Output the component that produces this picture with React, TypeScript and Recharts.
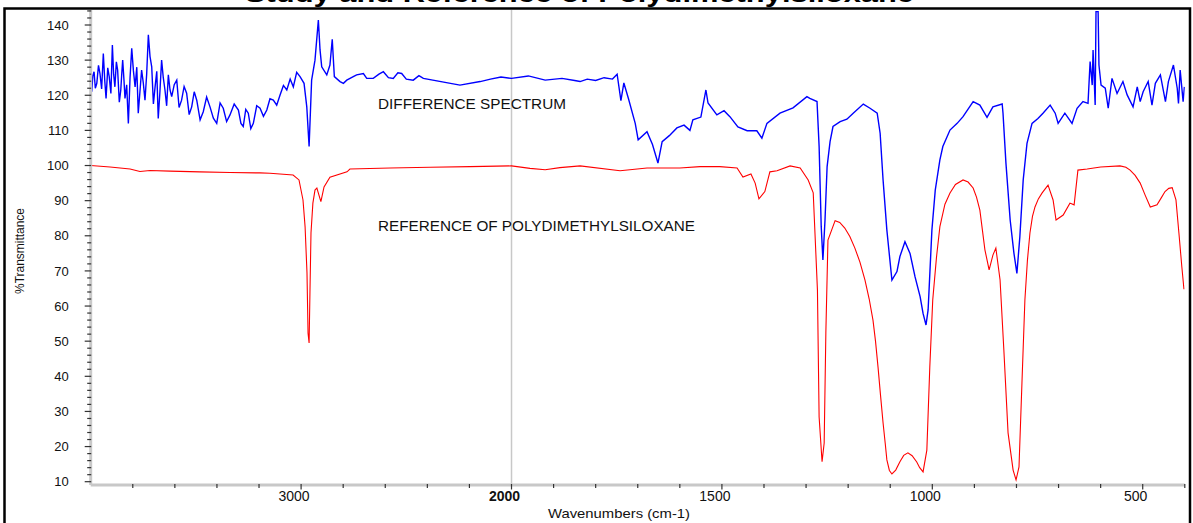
import React from 'react';
import { LineChart, Line, XAxis, YAxis, ReferenceLine } from 'recharts';

// reference spectrum (red), wavenumber / %T
const redWn = [
  4000, 3908, 3813, 3766, 3718, 3623, 3481, 3338, 3196, 3148, 3038, 3010, 2991, 2981, 2972, 2967,
  2962, 2958, 2953, 2944, 2934, 2925, 2906, 2891, 2863, 2782, 2768, 2577, 2387, 2197, 2000, 1956,
  1920, 1885, 1837, 1742, 1678, 1600, 1552, 1505, 1464, 1450, 1431, 1421, 1412, 1398, 1386, 1369,
  1338, 1314, 1295, 1283, 1273, 1269, 1262, 1257, 1253, 1248, 1231, 1220, 1208, 1196, 1184, 1172,
  1160, 1150, 1141, 1135, 1129, 1123, 1117, 1112, 1108, 1102, 1096, 1087, 1077, 1068, 1058, 1048,
  1037, 1030, 1022, 1013, 1006, 999, 990, 982, 970, 958, 945, 927, 915, 903, 895, 887, 875, 865,
  856, 849, 839, 830, 820, 808, 801, 794, 787, 780, 774, 768, 762, 756, 748, 739, 725, 713, 706,
  689, 673, 663, 654, 632, 600, 554, 540, 530, 518, 506, 494, 482, 466, 456, 447, 438, 430, 421,
  414, 407, 402,
];
const redT = [
  100, 99.6, 99.0, 98.3, 98.6, 98.4, 98.2, 98.0, 97.9, 97.8, 97.3, 95.9, 90.2, 82.5, 69.4, 52.3,
  49.5, 63.7, 80.8, 89.3, 93.0, 93.6, 89.7, 93.9, 96.7, 98.2, 99.0, 99.3, 99.5, 99.7, 99.9, 99.2,
  98.8, 99.4, 99.9, 98.5, 99.3, 99.3, 99.7, 99.7, 99.3, 96.7, 97.6, 95.0, 90.5, 92.6, 98.2, 98.5,
  99.9, 99.3, 95.9, 92.2, 64.6, 28.4, 15.7, 21.0, 52.3, 78.8, 84.3, 83.8, 82.2, 79.8, 76.5, 72.5,
  67.4, 62.0, 56.0, 50.0, 42.6, 34.5, 26.7, 21.0, 16.2, 13.2, 12.2, 13.3, 15.7, 17.5, 18.2, 17.4,
  15.6, 14.0, 12.8, 19.0, 42.6, 61.7, 74.0, 82.6, 89.0, 92.2, 94.6, 95.9, 95.3, 93.6, 91.0, 87.3, 76.0, 70.3,
  74.5, 76.5, 67.4, 47.5, 23.9, 13.3, 10.5, 14.2, 38.1, 61.7, 73.0, 80.8, 85.5, 88.2, 90.5, 92.2, 94.4, 90.2, 84.5,
  85.9, 89.3, 88.8, 98.7, 99.0, 99.6, 99.9, 99.5, 98.7, 97.2, 95.0, 91.5, 88.2, 88.8, 90.8, 92.6, 93.5, 93.7, 90.2,
  80.8, 71.1, 64.8,
];

// difference spectrum (blue)
const blueWn = [
  3995, 3990, 3984, 3978, 3971, 3963, 3956, 3948, 3940, 3933, 3927, 3919, 3912, 3904, 3897, 3891,
  3885, 3878, 3872, 3864, 3857, 3852, 3848, 3842, 3837, 3829, 3821, 3813, 3805, 3797, 3789, 3781,
  3774, 3766, 3758, 3750, 3742, 3734, 3726, 3718, 3710, 3702, 3694, 3686, 3679, 3671, 3663, 3655,
  3647, 3639, 3631, 3623, 3615, 3603, 3591, 3580, 3568, 3556, 3544, 3532, 3520, 3508, 3496, 3480,
  3465, 3449, 3433, 3417, 3401, 3385, 3370, 3354, 3338, 3318, 3298, 3286, 3275, 3263, 3251, 3239,
  3227, 3211, 3195, 3179, 3163, 3148, 3132, 3116, 3100, 3084, 3068, 3052, 3037, 3021, 3005,
  2986, 2973, 2962, 2950, 2934, 2918, 2910, 2902, 2878, 2863, 2852, 2842, 2815, 2799, 2783, 2752,
  2736, 2704, 2688, 2657, 2630, 2609, 2585, 2562, 2540, 2522, 2500, 2467, 2440, 2419, 2245, 2149,
  2100, 2050, 2000, 1960, 1920, 1880, 1850, 1837, 1820, 1800, 1780, 1760, 1749, 1740, 1733, 1722,
  1706, 1699, 1678, 1665, 1652, 1642, 1625, 1607, 1590, 1576, 1569, 1550, 1538, 1533, 1512, 1495,
  1481, 1462, 1440, 1417, 1405, 1393, 1362, 1331, 1298, 1291, 1274, 1269, 1264, 1260, 1255, 1250,
  1243, 1236, 1219, 1203, 1188, 1164, 1148, 1131, 1124, 1117, 1108, 1096, 1084, 1077, 1065, 1053,
  1041, 1029, 1022, 1015, 1010, 1001, 993, 982, 975, 958, 941, 927, 903, 887, 870, 856, 834, 832,
  825, 815, 806, 799, 792, 784, 775, 763, 749, 737, 720, 708, 701, 685, 668, 656, 642, 630, 625, 620,
  618, 613, 611, 606, 604, 599, 589, 582, 573, 561, 547, 537, 523, 513, 506, 499, 487, 478, 470, 458,
  446, 439, 427, 418, 415, 411, 404, 401,
];
const blueT = [
  121.0, 125.5, 126.7, 122.0, 123.4, 128.5, 126.2, 121.8, 131.9, 124.0, 119.1, 127.8, 125.3, 120.5, 134.3, 126.0,
  122.4, 129.5, 127.2, 118.0, 121.5, 126.5, 130.0, 124.5, 119.1, 123.0, 112.0, 125.0, 133.4, 127.0, 122.4, 128.0,
  114.9, 121.0, 127.2, 123.5, 118.6, 126.0, 137.2, 131.0, 128.1, 117.5, 122.4, 126.8, 113.4, 121.0, 130.0, 125.0,
  121.5, 117.0, 125.8, 121.5, 119.6, 123.0, 124.3, 116.5, 118.6, 122.5, 120.6, 114.5, 116.7, 121.0, 118.6, 113.0,
  115.3, 119.5, 116.7, 113.5, 112.0, 117.8, 116.3, 112.5, 114.4, 117.5, 115.8, 112.0, 111.1, 116.0, 114.9, 110.5,
  112.0, 117.0, 116.3, 114.0, 115.8, 119.0, 118.6, 117.2, 120.1, 122.8, 121.5, 124.6, 122.4, 126.5, 125.3,
  123.4, 116.7, 105.4, 124.3, 130.0, 141.4, 132.9, 128.1, 125.8, 128.6, 135.9, 125.3, 123.9, 123.4, 124.3, 125.3,
  125.8, 126.2, 124.8, 124.8, 126.0, 126.7, 125.0, 124.8, 126.4, 126.2, 124.6, 124.3, 125.6, 124.8, 122.9, 123.9,
  124.6, 125.2, 124.8, 125.5, 124.3, 124.8, 124.2, 123.9, 124.6, 124.2, 125.0, 124.6, 126.0, 118.5, 123.5, 119.0,
  112.0, 107.3, 109.6, 106.0, 100.7, 106.8, 108.5, 110.7, 111.5, 110.0, 113.0, 113.8, 121.5, 117.8, 114.4, 115.6,
  113.9, 111.0, 109.9, 109.9, 107.8, 112.0, 114.9, 116.4, 119.6, 119.1, 118.2, 105.4, 82.6, 73.1, 84.5, 99.7,
  106.8, 111.1, 112.5, 113.2, 114.9, 117.5, 116.3, 114.9, 109.2, 95.9, 81.6, 67.4, 69.8, 74.1, 78.3, 75.0,
  68.3, 62.7, 57.9, 54.6, 58.9, 81.6, 93.0, 101.6, 105.4, 110.1, 112.0, 113.9, 118.2, 117.2, 113.7, 116.7, 117.5, 114.9,
  100.6, 84.5, 75.0, 69.3, 79.7, 95.9, 106.3, 112.0, 113.4, 114.9, 117.2, 114.9, 112.0, 114.9, 112.0, 116.3, 118.2, 117.7, 129.6, 122.9,
  132.9, 117.2, 143.8, 143.8, 128.6, 122.9, 122.0, 116.3, 124.8, 120.5, 123.9, 120.1, 116.7, 122.4, 118.2, 121.0, 123.9, 117.2, 123.4, 125.8,
  118.2, 123.9, 128.6, 122.0, 117.7, 127.2, 118.2, 122.4,
];

const xTickWn = [
  3800, 3600, 3400, 3200, 3000, 2800, 2600, 2400, 2200, 2000, 1900, 1800, 1700, 1600, 1500, 1400,
  1300, 1200, 1100, 1000, 900, 800, 700, 600, 500, 400,
];
const xLabelWn = [3000, 2000, 1500, 1000, 500];
const yTicks = Array.from({ length: 68 }, (_, i) => 10 + i * 2);

// axis is split at 2000: above it one unit takes half the width
const toU = (wn: number) => (wn >= 2000 ? (4000 - wn) / 2 : 1000 + (2000 - wn));
const fromU = (u: number) => (u <= 1000 ? 4000 - u * 2 : 2000 - (u - 1000));

const blueData = blueWn.map((w, i) => ({ u: toU(w), t: blueT[i] }));
const redData = redWn.map((w, i) => ({ u: toU(w), t: redT[i] }));

const FONT = '"Liberation Sans", Arial, sans-serif';
const PLOT_LEFT = 90.7;
const PLOT_BOTTOM = 485;

const YTick = (props: any) => {
  const { y, payload } = props;
  const v = payload.value;
  const major = v % 10 === 0;
  return (
    <g>
      <line x1={PLOT_LEFT - (major ? 6 : 3.5)} x2={PLOT_LEFT + 0.5} y1={y} y2={y} stroke="#333" strokeWidth={1.2} />
      {major && (
        <text x={PLOT_LEFT - 22} y={y} dy="0.36em" textAnchor="end" fontSize={13} fontFamily={FONT} fill="#111">
          {v}
        </text>
      )}
    </g>
  );
};

const XTick = (props: any) => {
  const { x, payload } = props;
  const wn = Math.round(fromU(payload.value));
  const major = xLabelWn.includes(wn);
  return (
    <g>
      <line x1={x} x2={x} y1={PLOT_BOTTOM - 1} y2={PLOT_BOTTOM + (major ? 4.5 : 3)} stroke="#333" strokeWidth={1.2} />
      {major && (
        <text
          x={x - 7}
          y={PLOT_BOTTOM + 16}
          textAnchor="middle"
          fontSize={14}
          fontFamily={FONT}
          fontWeight={wn === 2000 ? 'bold' : 'normal'}
          fill="#111"
        >
          {wn}
        </text>
      )}
    </g>
  );
};

const App = () => {
  return (
    <div style={{ position: 'absolute', left: 0, top: 0, width: 1193, height: 523, overflow: 'hidden', background: '#fff' }}>
      <div style={{ position: 'absolute', left: 0, top: 0 }}>
        <LineChart width={1193} height={523} margin={{ top: 10, right: 8.2, bottom: 0, left: 0 }}>
          <XAxis
            dataKey="u"
            type="number"
            domain={[0, 2600]}
            ticks={xTickWn.map(toU)}
            allowDataOverflow
            height={38}
            tickSize={0}
            tickMargin={0}
            tickLine={false}
            axisLine={{ stroke: '#c8c8c8', strokeWidth: 3 }}
            tick={<XTick />}
            interval={0}
          />
          <YAxis
            type="number"
            domain={[9.06, 144.27]}
            ticks={yTicks}
            allowDataOverflow
            width={PLOT_LEFT}
            tickSize={0}
            tickMargin={0}
            tickLine={false}
            axisLine={{ stroke: '#c8c8c8', strokeWidth: 3 }}
            tick={<YTick />}
            interval={0}
          />
          <ReferenceLine x={toU(2000)} stroke="#c8c8c8" strokeWidth={1.5} />
          <Line data={redData} dataKey="t" type="linear" stroke="#ff0000" strokeWidth={1.1} dot={false} isAnimationActive={false} />
          <Line data={blueData} dataKey="t" type="linear" stroke="#0000ff" strokeWidth={1.4} dot={false} isAnimationActive={false} />
        </LineChart>
      </div>
      <svg width={1193} height={523} style={{ position: 'absolute', left: 0, top: 0, pointerEvents: 'none' }}>
        <text x={245} y={1.5} fontSize={24} fontWeight="bold" fontFamily={FONT} textLength={669} lengthAdjust="spacingAndGlyphs">
          Study and Reference of Polydimethylsiloxane
        </text>
        <rect x={4.5} y={8.5} width={1185.5} height={530} fill="none" stroke="#000" strokeWidth={2.5} />
        <text x={378} y={109} fontSize={14} fontFamily={FONT} fill="#111" textLength={188} lengthAdjust="spacingAndGlyphs">
          DIFFERENCE SPECTRUM
        </text>
        <text x={378} y={231} fontSize={14} fontFamily={FONT} fill="#111" textLength={317} lengthAdjust="spacingAndGlyphs">
          REFERENCE OF POLYDIMETHYLSILOXANE
        </text>
        <text
          x={0}
          y={0}
          transform="translate(24,251) rotate(-90)"
          textAnchor="middle"
          fontSize={12.5}
          fontFamily={FONT}
          fill="#111"
          textLength={86}
          lengthAdjust="spacingAndGlyphs"
        >
          %Transmittance
        </text>
        <text x={548} y={518} fontSize={13} fontFamily={FONT} fill="#111" textLength={142} lengthAdjust="spacingAndGlyphs">
          Wavenumbers (cm-1)
        </text>
      </svg>
    </div>
  );
};

export default App;
